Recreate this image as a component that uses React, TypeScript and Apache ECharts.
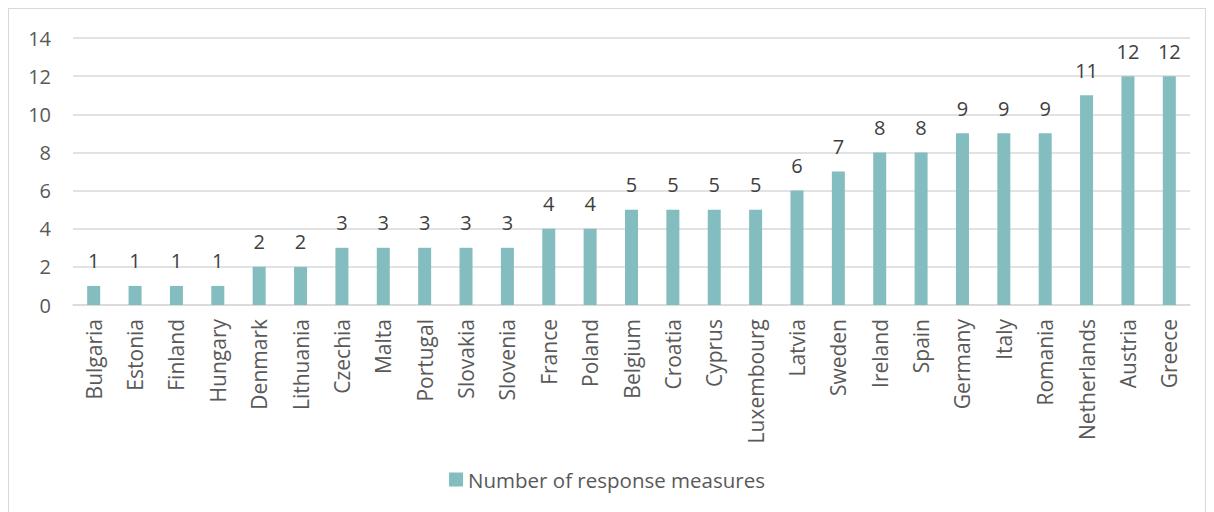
import React, { useEffect, useRef } from "react";
import * as echarts from "echarts";

const countries = [
  "Bulgaria", "Estonia", "Finland", "Hungary", "Denmark", "Lithuania", "Czechia",
  "Malta", "Portugal", "Slovakia", "Slovenia", "France", "Poland", "Belgium",
  "Croatia", "Cyprus", "Luxembourg", "Latvia", "Sweden", "Ireland", "Spain",
  "Germany", "Italy", "Romania", "Netherlands", "Austria", "Greece",
];
const measures = [1, 1, 1, 1, 2, 2, 3, 3, 3, 3, 3, 4, 4, 5, 5, 5, 5, 6, 7, 8, 8, 9, 9, 9, 11, 12, 12];
const seriesName = "Number of response measures";

const FONT = "'Open Sans', 'Noto Sans', sans-serif";
const BAR_COLOR = "#84BDBF";

export default function App() {
  const ref = useRef<HTMLDivElement>(null);

  useEffect(() => {
    if (!ref.current) return;
    const chart = echarts.init(ref.current, null, { renderer: "svg" });
    chart.setOption({
      animation: false,
      backgroundColor: "#ffffff",
      textStyle: { fontFamily: FONT },
      grid: { left: 64, right: 15, top: 29, height: 267 },
      legend: {
        bottom: 17,
        left: "center",
        itemWidth: 14,
        itemHeight: 14,
        itemGap: 6,
        icon: "rect",
        textStyle: { fontFamily: FONT, fontSize: 20.5, color: "#595959" },
        data: [seriesName],
      },
      xAxis: {
        type: "category",
        data: countries,
        axisLine: { lineStyle: { color: "#d9d9d9", width: 1.5 } },
        axisTick: { show: false },
        axisLabel: {
          rotate: 90,
          interval: 0,
          margin: 14,
          fontFamily: FONT,
          fontSize: 21,
          color: "#595959",
        },
      },
      yAxis: {
        type: "value",
        min: 0,
        max: 14,
        interval: 2,
        axisLine: { show: false },
        axisTick: { show: false },
        splitLine: { lineStyle: { color: "#d9d9d9", width: 1.5 } },
        axisLabel: {
          fontFamily: FONT,
          fontSize: 20,
          color: "#595959",
          margin: 22,
        },
      },
      series: [
        {
          name: seriesName,
          type: "bar",
          data: measures,
          barWidth: 13,
          itemStyle: { color: BAR_COLOR },
          label: {
            show: true,
            position: "top",
            distance: 15,
            fontFamily: FONT,
            fontSize: 20,
            color: "#404040",
          },
        },
      ],
    });
    return () => chart.dispose();
  }, []);

  return (
    <div
      ref={ref}
      style={{
        width: 1196,
        height: 503,
        border: "1px solid #d9d9d9",
        borderBottom: "none",
      }}
    />
  );
}
